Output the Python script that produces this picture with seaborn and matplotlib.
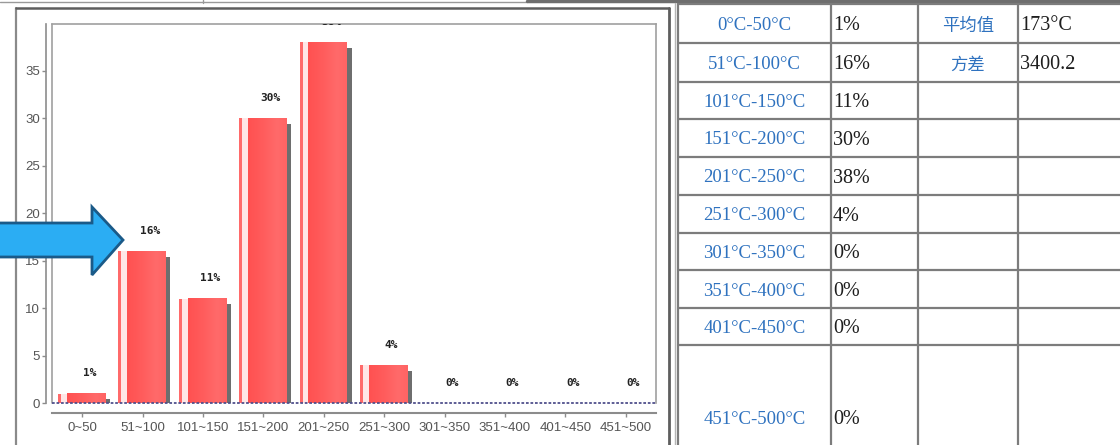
import numpy as np
import pandas as pd
import matplotlib
matplotlib.use("Agg")
import matplotlib.pyplot as plt
from matplotlib.patches import Polygon
from matplotlib.colors import LinearSegmentedColormap
import seaborn as sns

# ---- data -------------------------------------------------------------
categories = ["0~50", "51~100", "101~150", "151~200", "201~250",
              "251~300", "301~350", "351~400", "401~450", "451~500"]
percent = [1, 16, 11, 30, 38, 4, 0, 0, 0, 0]
y_ticks = [0, 5, 10, 15, 20, 25, 30, 35]
range_labels = ["0°C-50°C", "51°C-100°C", "101°C-150°C", "151°C-200°C",
                "201°C-250°C", "251°C-300°C", "301°C-350°C", "351°C-400°C",
                "401°C-450°C", "451°C-500°C"]
stat_names = ["平均值", "方差"]
stat_values = ["173°C", "3400.2"]

# ---- figure -----------------------------------------------------------
W, H = 1120, 445
sns.set_style("white")
plt.rcParams["font.family"] = ["DejaVu Sans", "Noto Sans CJK SC"]

fig = plt.figure(figsize=(W / 100, H / 100), dpi=100)
fig.patch.set_facecolor("white")


def frac(x0, y0, x1, y1):
    """Pixel box (top-left origin) -> figure fraction rect."""
    return [x0 / W, 1 - y1 / H, (x1 - x0) / W, (y1 - y0) / H]


# ---- bar chart --------------------------------------------------------
ax = fig.add_axes(frac(52, 24, 656, 403))
df = pd.DataFrame({"range": categories, "pct": percent})
sns.barplot(data=df, x="range", y="pct", color="#ff5a5a", width=0.634,
            saturation=1, ax=ax, zorder=3, linewidth=0)

idx = np.arange(len(categories))
vals = np.array(percent, dtype=float)

# body shifted a little right of the tick, with a soft horizontal gradient
grad_cmap = LinearSegmentedColormap.from_list(
    "bar", ["#ff5151", "#ff5858", "#ff6060", "#ff6a6a", "#ff6464"])
grad = np.linspace(0, 1, 64).reshape(1, -1)
for p in ax.patches:
    p.set_x(p.get_x() + 0.063)
    h = p.get_height()
    if h > 0:
        x0, w = p.get_x(), p.get_width()
        ax.imshow(grad, cmap=grad_cmap, extent=(x0, x0 + w, 0, h),
                  aspect="auto", zorder=3.5, interpolation="bilinear")

# pale gap + thin red strip on the left of every bar
ax.bar(idx - 0.40, vals, width=0.146, align="edge", color="#ffe6e6",
       linewidth=0, zorder=2.5)
ax.bar(idx - 0.40, vals, width=0.05, align="edge", color="#ff6a6a",
       linewidth=0, zorder=2.6)
# drop shadow on the right
ax.bar(idx + 0.38, np.clip(vals - 0.63, 0, None), width=0.08, align="edge",
       color="#6e6e6e", linewidth=0, zorder=2)

# value labels
for i, v in enumerate(percent):
    ax.text(i + 0.12, v + 2.15, f"{v}%", ha="center", va="center",
            fontsize=8, fontweight="bold", family="DejaVu Sans Mono",
            color="#222222", clip_on=True, zorder=6)

ax.set_xlim(-0.5, 9.5)
ax.set_ylim(0, 39.9)
ax.set_yticks(y_ticks)
ax.set_xlabel("")
ax.set_ylabel("")

for s in ["top", "right"]:
    ax.spines[s].set_color("#a0a0a0")
    ax.spines[s].set_linewidth(1.2)
ax.spines["left"].set_position(("outward", 4))
ax.spines["left"].set_color("#8c8c8c")
ax.spines["left"].set_linewidth(1.2)
ax.spines["bottom"].set_position(("outward", 7))
ax.spines["bottom"].set_color("#8c8c8c")
ax.spines["bottom"].set_linewidth(1.5)

# inner box edge on the left and dotted baseline
ax.plot([0, 0], [0, 1], transform=ax.transAxes, color="#a0a0a0", lw=1.2,
        clip_on=False, zorder=6)
ax.plot([0, 1], [0, 0], transform=ax.transAxes, color="#50508c", lw=1.3,
        ls=(0, (1.5, 1.0)), clip_on=False, zorder=7)

ax.tick_params(axis="both", direction="out", length=3, width=1,
               color="#8c8c8c", labelcolor="#555555", labelsize=9.5,
               bottom=True, left=True)
ax.tick_params(axis="y", pad=1.5)
ax.tick_params(axis="x", pad=3.5)
for lab in ax.get_xticklabels() + ax.get_yticklabels():
    lab.set_family("Liberation Sans")

# ---- overlay: frames, table, arrow (pixel coordinates) ---------------
ov = fig.add_axes([0, 0, 1, 1])
ov.set_xlim(0, W)
ov.set_ylim(H, 0)
ov.axis("off")
ov.patch.set_alpha(0)

# window edges at the top
ov.plot([0, 527], [2, 2], color="#9a9a9a", lw=1)
ov.plot([203, 203], [0, 3], color="#9a9a9a", lw=1)
ov.plot([527, W], [1, 1], color="#6e6e6e", lw=2.5)

# chart panel frame
ov.plot([16, 16], [8, H], color="#8a8a8a", lw=1.6)
ov.plot([16, 669], [8, 8], color="#5e5e5e", lw=1.8)
ov.plot([669, 669], [8, H], color="#5e5e5e", lw=2.0)
ov.plot([675, 675], [3, H], color="#b4b4b4", lw=1.0)

# table grid
grid_c = "#7c7c7c"
col_x = [678, 831, 918, 1018]
row_y = [4, 43, 82, 119, 157, 195, 233, 270, 308, 345]
for x in col_x:
    ov.plot([x, x], [4, H], color=grid_c, lw=1.6)
for y in row_y:
    ov.plot([678, W], [y, y], color=grid_c, lw=1.6)

row_centers = [(row_y[k] + row_y[k + 1]) / 2 for k in range(len(row_y) - 1)]
row_centers.append(417)

blue = "#2f72bf"
for k, (lab, v) in enumerate(zip(range_labels, percent)):
    cy = row_centers[k]
    ov.text((col_x[0] + col_x[1]) / 2, cy + 6.5, lab, ha="center",
            va="baseline", fontsize=13.5, family="Liberation Serif",
            color=blue)
    ov.text(col_x[1] + 2, cy + 6.8, f"{v}%", ha="left", va="baseline",
            fontsize=14.5, family="Liberation Serif", color="#1e1e1e")

for k, (name, val) in enumerate(zip(stat_names, stat_values)):
    cy = row_centers[k]
    ov.text((col_x[2] + col_x[3]) / 2, cy + 7, name, ha="center",
            va="baseline", fontsize=12.5, family="Noto Sans CJK SC",
            color=blue)
    ov.text(col_x[3] + 2, cy + 6.8, val, ha="left", va="baseline",
            fontsize=14.5, family="Liberation Serif", color="#1e1e1e")

# blue pointer arrow
arrow = Polygon([(-5, 223), (92, 223), (92, 207), (123, 240), (92, 275),
                 (92, 257), (-5, 257)], closed=True, facecolor="#2badf3",
                edgecolor="#1a5a88", lw=2.0, zorder=20)
ov.add_patch(arrow)

fig.savefig("out.png", dpi=100, facecolor="white")
